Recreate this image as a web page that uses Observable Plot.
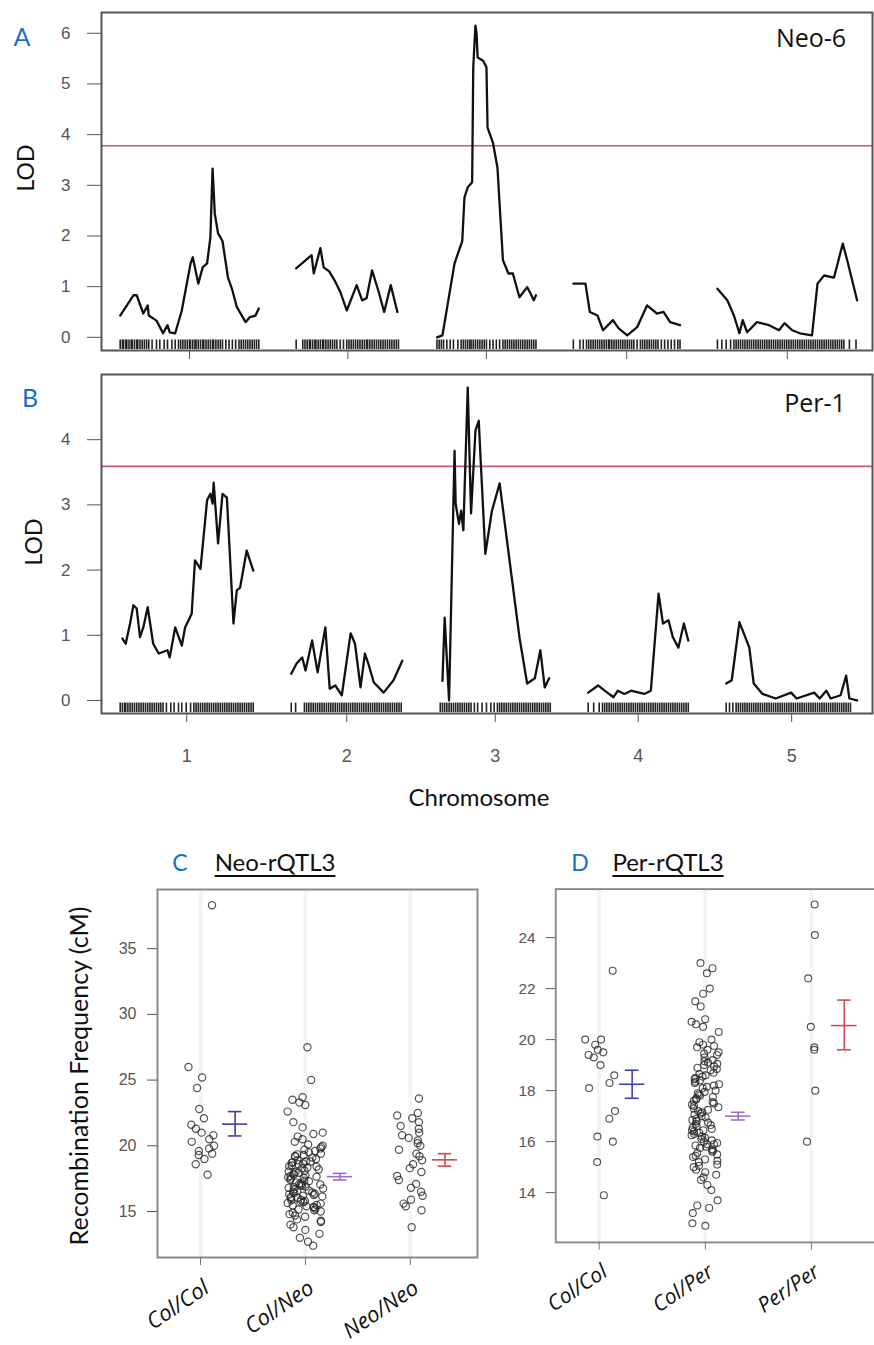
<!DOCTYPE html>
<html><head><meta charset="utf-8">
<script src="https://cdn.jsdelivr.net/npm/d3@7"></script>
<script src="https://cdn.jsdelivr.net/npm/@observablehq/plot@0.6"></script>
<style>
body{margin:0;background:#fff;width:874px;height:1345px;overflow:hidden;position:relative;font-family:Lato,sans-serif}
.p{position:absolute}
.t{position:absolute;white-space:nowrap;transform:translate(-50%,-50%);line-height:1;color:#111}
.blue{color:#1a6fc4}
.rot{transform:translate(-50%,-50%) rotate(-90deg)}
.u{text-decoration:underline;text-underline-offset:4px;text-decoration-thickness:1.5px}
</style></head><body>
<div id="pa" class="p" style="left:0;top:0"></div>
<div id="pb" class="p" style="left:0;top:362px"></div>
<div id="pc" class="p" style="left:0;top:880px"></div>
<div id="pd" class="p" style="left:490px;top:880px"></div>

<div class="t blue" style="left:22px;top:36px;font-size:25px">A</div>
<div class="t rot" style="left:25px;top:168px;font-size:23px">LOD</div>
<div class="t" style="left:811px;top:37px;font-size:25px;font-family:'Open Sans'">Neo-6</div>
<div class="t blue" style="left:30px;top:397px;font-size:25px">B</div>
<div class="t rot" style="left:33px;top:542px;font-size:23px">LOD</div>
<div class="t" style="left:815px;top:402px;font-size:25px;font-family:'Open Sans'">Per-1</div>
<div class="t" style="left:479px;top:797px;font-size:24px">Chromosome</div>
<div class="t blue" style="left:180px;top:862px;font-size:23px">C</div>
<div class="t u" style="left:275px;top:862px;font-size:24px">Neo-rQTL3</div>
<div class="t blue" style="left:580px;top:862px;font-size:23px">D</div>
<div class="t u" style="left:668px;top:862px;font-size:24px">Per-rQTL3</div>
<div class="t rot" style="left:78px;top:1076px;font-size:25px">Recombination Frequency (cM)</div>

<script>
// ---------- DATA ----------
const chromosomes = ["1", "2", "3", "4", "5"];
// genetic lengths (cM) of each chromosome in the two crosses
const chrLenA = [126, 94, 90, 97, 127];
const chrLenB = [121, 101, 100, 91, 119];
const chrGapA = 34, chrGapB = 34.5;
const thresholdA = 3.78, thresholdB = 3.59;

// LOD profiles: [position within chromosome (cM), LOD]
const lodA1 = [[0,0.43],[12,0.83],[15,0.83],[21,0.47],[25,0.63],[26,0.43],[33,0.33],[39,0.08],[43,0.24],[45,0.1],[50,0.08],[56,0.53],[64,1.46],[66,1.58],[71,1.06],[75,1.38],[79,1.46],[82,1.97],[84,3.33],[86,2.44],[89,2.05],[93,1.9],[98,1.18],[102,0.93],[106,0.6],[114,0.3],[118,0.4],[123,0.43],[126,0.57]];
const lodA2 = [[0,1.36],[14,1.62],[16,1.26],[22,1.76],[25,1.38],[30,1.3],[35,1.12],[40,0.9],[46,0.53],[55,1.03],[60,0.73],[64,0.77],[69,1.32],[75,0.9],[80,0.5],[86,1.03],[92,0.5]];
const lodA3 = [[0,0.0],[5,0.04],[16,1.46],[23,1.9],[25,2.76],[28,2.96],[32,3.06],[33,5.33],[35,6.15],[36,6.0],[37,5.52],[42,5.46],[45,5.33],[46,4.14],[51,3.83],[55,3.35],[60,1.52],[65,1.26],[69,1.26],[75,0.79],[82,0.99],[85,0.87],[88,0.73],[90,0.83]];
const lodA4 = [[0,1.06],[11,1.06],[15,0.5],[22,0.43],[27,0.14],[36,0.34],[41,0.18],[49,0.04],[58,0.2],[67,0.63],[76,0.47],[82,0.5],[88,0.3],[97,0.24]];
const lodA5 = [[0,0.96],[9,0.73],[15,0.43],[20,0.08],[23,0.34],[27,0.1],[36,0.3],[47,0.24],[56,0.14],[61,0.28],[68,0.14],[75,0.08],[86,0.04],[91,1.06],[97,1.22],[106,1.18],[114,1.85],[118,1.52],[127,0.73]];
const lodB1 = [[2,0.95],[5,0.87],[9,1.18],[12,1.46],[15,1.41],[18,0.97],[21,1.12],[25,1.43],[30,0.87],[35,0.72],[43,0.77],[45,0.66],[50,1.12],[56,0.84],[59,1.12],[65,1.33],[68,2.15],[73,2.02],[79,3.07],[82,3.17],[84,3.02],[85,3.34],[89,2.41],[93,3.17],[97,3.11],[103,1.18],[106,1.69],[109,1.73],[115,2.3],[121,1.99]];
const lodB2 = [[0,0.41],[5,0.57],[10,0.66],[13,0.46],[19,0.92],[24,0.43],[31,1.12],[35,0.18],[40,0.23],[46,0.08],[54,1.03],[58,0.87],[63,0.2],[67,0.72],[70,0.57],[75,0.28],[84,0.12],[93,0.31],[101,0.61]];
const lodB3 = [[2,0.3],[4,1.27],[8,0.0],[13,3.83],[14,3.02],[17,2.71],[19,2.91],[21,2.61],[25,4.8],[28,2.87],[32,4.14],[35,4.29],[37,3.6],[41,2.25],[47,2.91],[54,3.33],[61,2.41],[72,0.97],[79,0.26],[86,0.34],[91,0.77],[95,0.2],[99,0.34]];
const lodB4 = [[0,0.12],[9,0.23],[15,0.15],[23,0.05],[27,0.15],[33,0.1],[39,0.15],[51,0.1],[57,0.15],[64,1.64],[68,1.18],[73,1.23],[77,0.97],[82,0.81],[87,1.18],[91,0.92]];
const lodB5 = [[0,0.26],[5,0.31],[12,1.2],[16,1.03],[21,0.81],[25,0.26],[33,0.1],[45,0.03],[59,0.12],[64,0.03],[80,0.12],[85,0.03],[91,0.15],[95,0.03],[104,0.08],[109,0.38],[112,0.03],[119,0.0]];

// marker positions (cM) for the rug
const rugA1 = [0,2,3,5,6,8,10,11,13,15,16,18,20,22,24,26,29,33,36,40,43,47,50,53,55,57,59,61,63,64,66,68,69,71,73,75,76,78,80,82,84,85,87,89,91,93,96,99,102,105,108,110,112,114,116,118,120,122,124,126];
const rugA2 = [0,6,8,10,12,13,15,17,18,20,22,24,25,27,29,31,33,35,37,40,43,46,48,50,52,54,56,58,60,62,64,65,67,69,71,73,75,77,79,81,83,85,87,89,91,93];
const rugA3 = [0,2,4,6,9,12,15,19,22,24,26,28,30,31,33,35,37,39,41,43,45,48,51,54,57,60,62,64,66,68,70,72,74,76,78,80,82,84,86,88,90];
const rugA4 = [0,6,9,12,14,16,18,20,22,24,26,28,30,32,33,35,37,39,41,43,45,47,49,51,53,55,58,61,63,65,67,69,71,73,75,77,80,83,86,89,92,95,97];
const rugA5 = [0,4,8,12,15,17,19,21,23,25,27,29,31,33,35,37,39,41,43,45,47,49,51,53,55,57,59,61,63,65,67,69,71,73,75,77,79,81,83,85,87,89,91,93,95,97,99,101,103,105,107,109,111,113,115,120,126];
const rugB1 = [0,2,4,5,7,9,11,13,15,17,19,21,23,25,27,29,31,33,35,37,39,42,46,49,53,56,60,64,67,69,71,73,75,77,79,81,83,85,87,89,91,93,95,97,99,101,103,105,107,109,111,113,115,117,119,121];
const rugB2 = [0,4,12,14,16,18,20,22,24,26,28,30,32,34,36,38,40,42,44,46,48,50,52,54,56,58,60,62,64,66,68,70,72,74,76,78,80,82,84,86,88,90,92,94,96,98,100];
const rugB3 = [0,2,4,6,8,10,12,14,16,18,20,22,24,26,28,31,34,38,42,46,49,52,54,56,58,60,62,64,66,68,70,72,74,76,78,80,82,84,86,88,90,92,94,96,98,100];
const rugB4 = [0,5,10,13,15,17,19,21,23,25,27,29,31,33,35,37,39,41,43,45,47,49,51,53,55,57,59,61,63,65,67,69,71,73,75,77,79,81,83,85,87,89,91];
const rugB5 = [0,3,6,9,11,13,15,17,19,21,23,25,27,29,31,33,35,37,39,41,43,45,47,49,51,53,55,57,59,61,63,65,67,69,71,73,75,77,79,81,83,85,87,89,91,93,95,97,99,101,103,105,107,109,111,113];

// Panel C: Neo-rQTL3 genotype classes
const catsC = ["Col/Col", "Col/Neo", "Neo/Neo"];
const colColC = [38.3,26.0,25.2,24.4,22.8,22.1,21.6,21.3,21.0,20.8,20.5,20.3,20.0,19.8,19.6,19.4,19.3,19.0,18.6,17.8];
const colNeoC = [27.5,25.0,23.7,23.5,23.3,23.1,22.6,21.8,21.4,21.0,20.9,20.7,20.5,20.3,20.1,20.0,19.8,19.7,19.6,19.5,19.4,19.3,19.2,19.1,19.0,18.9,18.8,18.75,18.7,18.6,18.5,18.4,18.35,18.3,18.2,18.1,18.0,17.95,17.9,17.8,17.7,17.65,17.6,17.5,17.4,17.3,17.2,17.15,17.1,17.0,16.9,16.85,16.8,16.7,16.6,16.5,16.45,16.4,16.3,16.25,16.2,16.1,16.05,16.0,15.9,15.8,15.75,15.7,15.6,15.5,15.45,15.4,15.3,15.2,15.1,15.0,14.9,14.8,14.6,14.4,14.2,14.0,13.8,13.6,13.3,13.0,12.7,12.4,
  19.9,19.2,18.8,18.45,18.05,17.75,17.55,17.35,17.05,16.95,16.75,16.55,16.35,16.15,15.85,15.65,15.35,15.15,14.7,14.3,19.35,18.65];
const neoNeoC = [23.6,22.5,22.3,22.1,21.8,21.5,21.3,21.0,20.8,20.6,20.4,20.2,20.0,19.7,19.4,19.2,18.9,18.6,18.3,18.0,17.7,17.4,17.1,16.8,16.5,16.2,15.9,15.6,15.4,15.1,13.8];
const meanC = [21.65, 17.65, 18.93];
const lowC = [20.75, 17.4, 18.45];
const highC = [22.6, 17.9, 19.4];

// Panel D: Per-rQTL3 genotype classes
const catsD = ["Col/Col", "Col/Per", "Per/Per"];
const colColD = [22.7,20.0,20.0,19.8,19.6,19.5,19.4,19.3,19.0,18.6,18.3,18.1,17.2,16.9,16.2,16.0,15.2,13.9];
const colPerD = [23.0,22.8,22.6,22.0,21.8,21.5,21.3,20.8,20.7,20.6,20.5,20.3,20.0,19.9,19.8,19.7,19.6,19.5,19.4,19.3,19.2,19.1,19.05,19.0,18.9,18.8,18.7,18.65,18.6,18.5,18.45,18.4,18.3,18.2,18.15,18.1,18.0,17.95,17.9,17.8,17.7,17.65,17.6,17.5,17.45,17.4,17.3,17.25,17.2,17.15,17.1,17.0,16.95,16.9,16.85,16.8,16.75,16.7,16.65,16.6,16.55,16.5,16.45,16.4,16.35,16.3,16.2,16.15,16.1,16.0,15.95,15.9,15.85,15.8,15.7,15.65,15.6,15.5,15.45,15.4,15.3,15.2,15.1,15.0,14.9,14.8,14.7,14.5,14.3,14.1,13.7,13.5,13.4,13.2,12.8,12.7,
  19.45,19.15,18.85,18.55,18.25,17.85,17.55,17.35,17.05,16.25,16.05,15.75,15.55,15.25,15.05,14.6,18.95,17.75,16.45,15.9,19.75,18.35];
const perPerD = [25.3,24.1,22.4,20.5,19.7,19.6,18.0,16.0];
const meanD = [18.25, 17.0, 20.55];
const lowD = [17.7, 16.85, 19.6];
const highD = [18.8, 17.15, 21.55];

const errColors = ["#3a3eab", "#9b6ccb", "#d4474f"];

// ---------- LAYOUT HELPERS ----------
function offsets(lens, gap) { const o = []; let acc = 0; for (const l of lens) { o.push(acc); acc += l + gap; } return o; }
// deterministic horizontal jitter (position only)
function jitter(k) { const s = Math.sin((k + 1) * 12.9898) * 43758.5453; return (s - Math.floor(s)) - 0.5; }

function lodPlot(curves, rugs, lens, gap, thr, yDomain, yTicks, height, mTop, mBottom, showLabels) {
  const off = offsets(lens, gap);
  const mids = lens.map((l, i) => off[i] + l / 2);
  const labelOf = new Map(mids.map((m, i) => [m, chromosomes[i]]));
  const rows = curves.flatMap((c, ci) => c.map(([p, v]) => ({chr: ci, x: off[ci] + p, lod: v})));
  const rugRows = rugs.flatMap((r, ci) => r.map(p => ({x: off[ci] + p})));
  const y0 = yDomain[0];
  return Plot.plot({
    width: 874, height, marginLeft: 101, marginRight: 2, marginTop: mTop, marginBottom: mBottom,
    style: {fontFamily: "'Liberation Sans', Arial, sans-serif", background: "transparent"},
    x: {domain: [-17, 684], axis: null},
    y: {domain: yDomain, axis: null},
    marks: [
      Plot.ruleY([thr], {stroke: "#c25a70", strokeWidth: 1.6}),
      Plot.ruleX(rugRows, {x: "x", y1: y0 * 0.92, y2: y0 * 0.2, stroke: "#222", strokeWidth: 1.6}),
      Plot.line(rows, {x: "x", y: "lod", z: "chr", stroke: "#111", strokeWidth: 2.3, curve: "linear"}),
      Plot.frame({stroke: "#555", strokeWidth: 2}),
      Plot.axisY({ticks: yTicks, tickSize: 14, tickPadding: 17, fontSize: 17, color: "#555", label: null, tickFormat: d => String(d)}),
      Plot.axisX({ticks: mids, tickSize: 9, tickPadding: 27, fontSize: 18, color: "#555", label: null,
                  tickFormat: showLabels ? (d => labelOf.get(d)) : (() => "")})
    ]
  });
}

function scatterPlot(cats, groups, amps, mean, lo, hi, yDomain, yTicks, width, mLeft, mRight, xDomain, barOff) {
  let n = 0;
  const pts = groups.flatMap((vals, g) => vals.map((v) => ({g, v, jx: g + amps[g] * 2 * jitter(n++)})));
  const idx = [0, 1, 2];
  const capW = 0.065, meanW = 0.12;
  return Plot.plot({
    width, height: 465, marginLeft: mLeft, marginRight: mRight, marginTop: 9, marginBottom: 88,
    style: {fontFamily: "'Liberation Sans', Arial, sans-serif", background: "transparent", overflow: "visible"},
    x: {domain: xDomain, axis: null},
    y: {domain: yDomain, axis: null},
    color: {type: "identity"},
    marks: [
      Plot.ruleX(idx, {x: i => i, stroke: "#f4f4f4", strokeWidth: 4}),
      Plot.frame({stroke: "#8a8a8a", strokeWidth: 2}),
      Plot.axisY({ticks: yTicks, tickSize: 10, tickPadding: 11, fontSize: 16, color: "#555", label: null}),
      Plot.axisX({ticks: idx, tickSize: 8, tickFormat: () => "", color: "#777", label: null}),
      Plot.text(idx, {x: i => i, text: i => cats[i], frameAnchor: "bottom", rotate: -34, textAnchor: "end",
                      dx: 10, dy: 34, fontSize: 22, fontStyle: "italic", fill: "#111", fontFamily: "'Open Sans', sans-serif"}),
      Plot.dot(pts, {x: "jx", y: "v", r: 3.6, stroke: "#222", strokeOpacity: 0.78, strokeWidth: 1.2, fill: "none"}),
      Plot.ruleX(idx, {x: i => i + barOff, y1: i => lo[i], y2: i => hi[i], stroke: i => errColors[i], strokeWidth: 1.6}),
      Plot.ruleY(idx, {y: i => lo[i], x1: i => i + barOff - capW, x2: i => i + barOff + capW, stroke: i => errColors[i], strokeWidth: 1.6}),
      Plot.ruleY(idx, {y: i => hi[i], x1: i => i + barOff - capW, x2: i => i + barOff + capW, stroke: i => errColors[i], strokeWidth: 1.6}),
      Plot.ruleY(idx, {y: i => mean[i], x1: i => i + barOff - meanW, x2: i => i + barOff + meanW, stroke: i => errColors[i], strokeWidth: 1.6})
    ]
  });
}

document.getElementById("pa").append(
  lodPlot([lodA1, lodA2, lodA3, lodA4, lodA5], [rugA1, rugA2, rugA3, rugA4, rugA5], chrLenA, chrGapA, thresholdA,
          [-0.26, 6.41], [0, 1, 2, 3, 4, 5, 6], 362, 12, 12, false));
document.getElementById("pb").append(
  lodPlot([lodB1, lodB2, lodB3, lodB4, lodB5], [rugB1, rugB2, rugB3, rugB4, rugB5], chrLenB, chrGapB, thresholdB,
          [-0.2, 5.0], [0, 1, 2, 3, 4], 450, 12, 99, true));
document.getElementById("pc").append(
  scatterPlot(catsC, [colColC, colNeoC, neoNeoC], [0.13, 0.17, 0.13], meanC, lowC, highC,
              [11.5, 39.5], [15, 20, 25, 30, 35], 490, 157, 13, [-0.41, 2.64], 0.33));
document.getElementById("pd").append(
  scatterPlot(catsD, [colColD, colPerD, perPerD], [0.15, 0.13, 0.05], meanD, lowD, highD,
              [12.05, 25.9], [14, 16, 18, 20, 22, 24], 400, 68, -10, [-0.41, 2.685], 0.31));
</script>
</body></html>
